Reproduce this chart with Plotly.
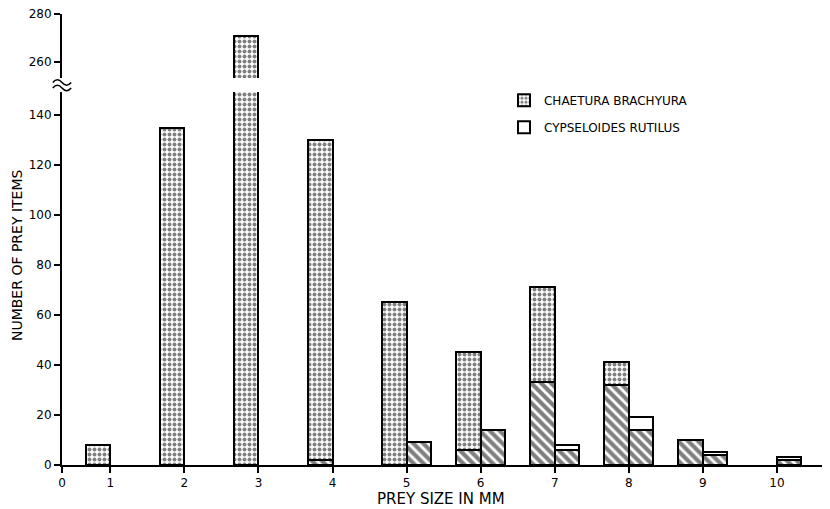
import plotly.graph_objects as go

sizes = [1, 2, 3, 4, 5, 6, 7, 8, 9, 10]
chaetura_total = [8, 135, 271, 130, 65, 45, 71, 41, 10, 0]
chaetura_hatched = [0, 0, 0, 2, 0, 6, 33, 32, 10, 0]
cyps_total = [0, 0, 0, 0, 9, 14, 8, 19, 5, 3]
cyps_hatched = [0, 0, 0, 0, 9, 14, 6, 14, 4, 2]

x_tickvals = [0.347, 1, 2, 3, 4, 5, 6, 7, 8, 9, 10]
x_ticktext = ["0", "1", "2", "3", "4", "5", "6", "7", "8", "9", "10"]
y_low_ticks = [0, 20, 40, 60, 80, 100, 120, 140]
y_high_ticks = [260, 280]

BW = 0.33
FONT = "DejaVu Sans"

def nz(xs, ys):
    pairs = [(a, b) for a, b in zip(xs, ys) if b > 0]
    return [p[0] for p in pairs], [p[1] for p in pairs]

fig = go.Figure()

dots = dict(shape=".", fgcolor="black", bgcolor="white", size=5, solidity=0.5)
hatch = dict(shape="\\", fgcolor="black", bgcolor="white", size=7, solidity=0.6)

for ya, showleg in (("y", True), ("y2", False)):
    cx, cy = nz(sizes, chaetura_total)
    fig.add_trace(go.Bar(x=cx, y=cy, width=BW, offset=-BW, yaxis=ya,
                         name="CHAETURA BRACHYURA", showlegend=showleg, legendgroup="a",
                         marker=dict(color="white", pattern=dots,
                                     line=dict(color="black", width=2))))
    hx, hy = nz(sizes, chaetura_hatched)
    fig.add_trace(go.Bar(x=hx, y=hy, width=BW, offset=-BW, yaxis=ya,
                         showlegend=False, legendgroup="a",
                         marker=dict(color="white", pattern=hatch,
                                     line=dict(color="black", width=2))))
    px_, py_ = nz(sizes, cyps_total)
    fig.add_trace(go.Bar(x=px_, y=py_, width=BW, offset=0, yaxis=ya,
                         name="CYPSELOIDES RUTILUS", showlegend=showleg, legendgroup="b",
                         marker=dict(color="white",
                                     line=dict(color="black", width=2))))
    qx, qy = nz(sizes, cyps_hatched)
    fig.add_trace(go.Bar(x=qx, y=qy, width=BW, offset=0, yaxis=ya,
                         showlegend=False, legendgroup="b",
                         marker=dict(color="white", pattern=hatch,
                                     line=dict(color="black", width=2))))

axis_common = dict(showgrid=False, zeroline=False, showline=True, linecolor="black",
                   linewidth=2, ticks="outside", ticklen=6, tickwidth=1.5,
                   tickcolor="black", automargin=False, ticklabeloverflow="allow",
                   tickfont=dict(family=FONT, size=12, color="black"))

# the page body adds an 8px offset, so the figure is sized to land the plot where the reference has it
fig.update_layout(
    width=822, height=501,
    margin=dict(l=54, r=2, t=6, b=44, autoexpand=False),
    paper_bgcolor="white", plot_bgcolor="white",
    barmode="overlay", bargap=0,
    font=dict(family=FONT, color="black"),
    xaxis=dict(range=[0.347, 10.69], tickvals=x_tickvals, ticktext=x_ticktext,
               anchor="y", **axis_common),
    yaxis=dict(domain=[0, 0.827], range=[0, 149.2], tickvals=y_low_ticks,
               **axis_common),
    yaxis2=dict(domain=[0.858, 1], range=[253.3, 280], tickvals=y_high_ticks,
                anchor="x", **axis_common),
    legend=dict(x=0.577, y=0.841, xanchor="left", yanchor="top",
                font=dict(family=FONT, size=12), bgcolor="rgba(0,0,0,0)",
                tracegroupgap=8, itemwidth=30),
    annotations=[
        dict(text="PREY SIZE IN MM", xref="paper", yref="paper",
             x=0.4948, y=-0.0754, xanchor="center", yanchor="middle",
             showarrow=False, font=dict(family=FONT, size=15)),
        dict(text="NUMBER OF PREY ITEMS", xref="paper", yref="paper",
             x=-0.0587, y=0.4656, xanchor="center", yanchor="middle",
             textangle=-90, showarrow=False, font=dict(family=FONT, size=14)),
    ],
)

# axis break marks
for y0 in (0.848, 0.836):
    fig.add_shape(type="path", xref="paper", yref="paper",
                  path=f"M -0.012,{y0} Q -0.006,{y0+0.012} 0,{y0} T 0.012,{y0}",
                  line=dict(color="black", width=1.5))

fig.write_html("out.html")
